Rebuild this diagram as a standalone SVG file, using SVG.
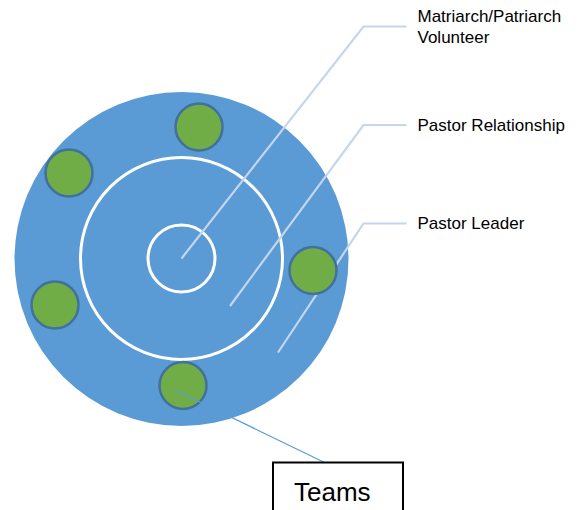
<svg xmlns="http://www.w3.org/2000/svg" width="584" height="510" viewBox="0 0 584 510">
  <style>
    .ring { fill: none; stroke: #ffffff; stroke-width: 3; }
    .team { fill: #70AD47; stroke: #41719C; stroke-width: 2.5; }
    .callout { fill: none; stroke: #C3D6EE; stroke-width: 2.2; }
    .label { font-family: "Liberation Sans", Arial, sans-serif; font-size: 17px; fill: #000000; }
  </style>

  <!-- outer disc -->
  <g id="outer">
    <circle cx="181.5" cy="259" r="167" fill="#5B9BD5"/>
  </g>

  <!-- concentric white rings -->
  <g id="middle-ring">
    <circle class="ring" cx="181.5" cy="258.5" r="101"/>
  </g>
  <g id="inner-ring">
    <circle class="ring" cx="181.5" cy="258.5" r="33.5"/>
  </g>

  <!-- callout leaders -->
  <g id="callouts">
    <polyline class="callout" points="181.5,258.5 363.5,26.5 406.5,26.5"/>
    <polyline class="callout" points="230,306 363.5,125 406.5,125"/>
    <polyline class="callout" points="278,352.5 363.5,223.5 406.5,223.5"/>
  </g>

  <!-- team circles -->
  <g id="team-top"><circle class="team" cx="199" cy="127" r="23.5"/></g>
  <g id="team-upper-left"><circle class="team" cx="69" cy="173" r="23.5"/></g>
  <g id="team-right"><circle class="team" cx="313" cy="270.5" r="23.5"/></g>
  <g id="team-lower-left"><circle class="team" cx="55" cy="305" r="23.5"/></g>
  <g id="team-bottom"><circle class="team" cx="183" cy="385.5" r="23.5"/></g>

  <!-- teams connector -->
  <g id="connectors">
    <line x1="175" y1="390" x2="323.5" y2="462" stroke="#5B9BD5" stroke-width="1.2"/>
  </g>

  <!-- labels -->
  <g id="label-matriarch">
    <text class="label" x="417.5" y="21.5">Matriarch/Patriarch</text>
    <text class="label" x="417.5" y="42.5">Volunteer</text>
  </g>
  <g id="label-relationship">
    <text class="label" x="417.5" y="130.5">Pastor Relationship</text>
  </g>
  <g id="label-leader">
    <text class="label" x="417.5" y="228.5">Pastor Leader</text>
  </g>

  <!-- teams box -->
  <g id="teams">
    <rect x="273" y="462.5" width="130" height="60" fill="#ffffff" stroke="#000000" stroke-width="2"/>
    <text x="294" y="501" font-family="Liberation Sans, Arial, sans-serif" font-size="26" fill="#000000">Teams</text>
  </g>
</svg>
